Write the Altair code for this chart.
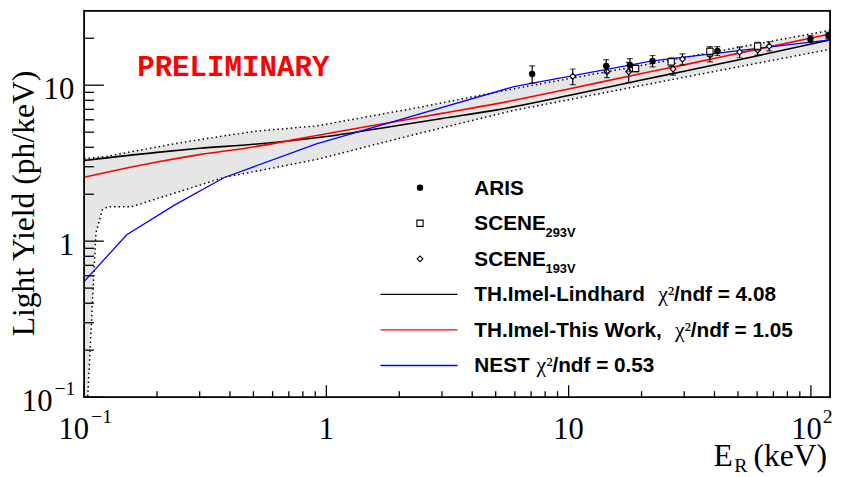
import altair as alt
import pandas as pd

# ---------------- data ----------------
band_E  = [0.1, 0.1035, 0.1065, 0.1084, 0.112, 0.119, 0.125, 0.156, 0.25, 0.38, 0.52, 0.91, 2.4, 5.95, 27, 120]
band_hi = [3.39, 3.40, 3.41, 3.42, 3.44, 3.47, 3.50, 3.74, 4.28, 4.74, 5.09, 5.48, 7.2, 9.5, 14.6, 22.5]
band_lo = [0.1, 0.1, 0.239, 0.427, 1.135, 1.59, 1.66, 1.66, 2.09, 2.57, 2.82, 3.34, 4.9, 6.9, 10.9, 17.0]

curve_E     = [0.1, 0.2, 0.3, 0.5, 1, 2, 3, 5, 10, 20, 30, 50, 120]
lindhard_LY = [3.29, 3.71, 3.94, 4.18, 4.69, 5.54, 6.12, 6.92, 8.58, 10.8, 12.3, 14.5, 19.5]
thiswork_LY = [2.57, 3.22, 3.59, 4.02, 4.88, 5.90, 6.6, 7.59, 9.45, 11.9, 13.5, 16.0, 21.3]

nest_E  = [0.1, 0.15, 0.237, 0.379, 0.91, 2.0, 5.95, 22.2, 38.9, 120]
nest_LY = [0.55, 1.10, 1.71, 2.56, 4.2, 6.0, 9.8, 14.3, 15.9, 19.5]

aris_E   = [7.07, 14.3, 17.9, 22.2, 41.1, 99.5, 118]
aris_LY  = [11.8, 13.3, 13.5, 14.3, 16.6, 19.8, 20.8]
aris_err = [1.5, 1.3, 1.3, 1.2, 1.1, 1.0, 1.0]

s293_E   = [18.9, 26.5, 38.3, 60.3]
s293_LY  = [12.8, 14.1, 16.5, 17.8]
s293_err = [0.6, 0.9, 1.2, 1.0]

s193_E   = [10.4, 14.4, 17.7, 27.0, 29.5, 38.3, 50.8, 60.3, 67.3]
s193_LY  = [11.4, 12.2, 12.2, 12.7, 14.7, 15.6, 16.3, 16.8, 17.8]
s193_err = [1.3, 1.0, 1.8, 1.1, 1.2, 1.5, 1.3, 1.2, 1.2]

x_major = [0.1, 1, 10, 100]
x_minor = [0.2, 0.3, 0.4, 0.5, 0.6, 0.7, 0.8, 0.9, 2, 3, 4, 5, 6, 7, 8, 9,
           20, 30, 40, 50, 60, 70, 80, 90]
y_major = [0.1, 1, 10]
y_minor = [0.2, 0.3, 0.4, 0.5, 0.6, 0.7, 0.8, 0.9, 2, 3, 4, 5, 6, 7, 8, 9, 20]

legend_marker_text = ["ARIS", "SCENE", "SCENE"]
legend_marker_sub = ["", "293V", "193V"]
legend_line_text = ["TH.Imel-Lindhard", "TH.Imel-This Work,", "NEST"]
legend_chi_values = ["4.08", "1.05", "0.53"]
legend_line_colors = ["black", "#ff0000", "#0000ff"]

# ---------------- layout ----------------
W, H = 755, 391
SERIF = "Liberation Serif"
SANS = "Liberation Sans"

xs = alt.Scale(type="log", domain=[0.1, 120], nice=False)
ys = alt.Scale(type="log", domain=[0.1, 30], nice=False)


def X(f):
    return alt.X(f, type="quantitative", scale=xs, axis=None)


def Y(f):
    return alt.Y(f, type="quantitative", scale=ys, axis=None)


band = pd.DataFrame({"E": band_E, "hi": band_hi, "lo": band_lo})
curves = pd.DataFrame({"E": curve_E, "lind": lindhard_LY, "tw": thiswork_LY})
nest = pd.DataFrame({"E": nest_E, "LY": nest_LY})


def pts(E, LY, err):
    return pd.DataFrame({"E": E, "LY": LY,
                         "lo": [a - b for a, b in zip(LY, err)],
                         "hi": [a + b for a, b in zip(LY, err)]})


aris = pts(aris_E, aris_LY, aris_err)
s293 = pts(s293_E, s293_LY, s293_err)
s193 = pts(s193_E, s193_LY, s193_err)

layers = []

# uncertainty band
layers.append(alt.Chart(band).mark_area(color="#e6e6e6", clip=True).encode(
    x=X("E"), y=Y("hi"), y2=alt.Y2("lo")))
for col in ["hi", "lo"]:
    layers.append(alt.Chart(band).mark_line(color="black", strokeWidth=1.5,
                                            strokeDash=[1.5, 3], clip=True).encode(
        x=X("E"), y=Y(col)))

# curves
layers.append(alt.Chart(curves).mark_line(color="black", strokeWidth=1.6,
                                          interpolate="monotone", clip=True).encode(
    x=X("E"), y=Y("lind")))
layers.append(alt.Chart(curves).mark_line(color="#ff0000", strokeWidth=1.6,
                                          interpolate="monotone", clip=True).encode(
    x=X("E"), y=Y("tw")))
layers.append(alt.Chart(nest).mark_line(color="#0000ff", strokeWidth=1.3, clip=True).encode(
    x=X("E"), y=Y("LY")))

# data points with error bars
for df, shape, filled, size in [(s193, "diamond", False, 34),
                                (s293, "square", False, 40),
                                (aris, "circle", True, 42)]:
    layers.append(alt.Chart(df).mark_rule(color="black", strokeWidth=1.2, clip=True).encode(
        x=X("E"), y=Y("lo"), y2=alt.Y2("hi")))
    for c in ["lo", "hi"]:
        layers.append(alt.Chart(df).mark_tick(color="black", orient="horizontal", size=6,
                                              thickness=1.2, clip=True).encode(
            x=X("E"), y=Y(c)))
    if filled:
        layers.append(alt.Chart(df).mark_point(shape=shape, filled=True, size=size,
                                               color="black", opacity=1, clip=True).encode(
            x=X("E"), y=Y("LY")))
    else:
        layers.append(alt.Chart(df).mark_point(shape=shape, filled=False, size=size,
                                               color="black", fill="white", fillOpacity=1,
                                               strokeWidth=1.1, opacity=1, clip=True).encode(
            x=X("E"), y=Y("LY")))

# ticks (inside, ROOT style)
for vals, ln in [(y_major, 20), (y_minor, 10)]:
    layers.append(alt.Chart(pd.DataFrame({"v": vals})).mark_rule(color="black", strokeWidth=1.3).encode(
        y=Y("v"), x=alt.value(0), x2=alt.value(ln)))
for vals, ln in [(x_major, 12), (x_minor, 6)]:
    layers.append(alt.Chart(pd.DataFrame({"v": vals})).mark_rule(color="black", strokeWidth=1.3).encode(
        x=X("v"), y=alt.value(H), y2=alt.value(H - ln)))

# frame
layers.append(alt.Chart(pd.DataFrame({"a": [0]})).mark_rect(fill=None, stroke="black", strokeWidth=1.8).encode(
    x=alt.value(0), x2=alt.value(W), y=alt.value(0), y2=alt.value(H)))

# tick labels
LFS = 31
xl = pd.DataFrame({"v": [1, 10], "t": ["1", "10"]})
layers.append(alt.Chart(xl).mark_text(font=SERIF, fontSize=LFS, align="center",
                                      baseline="alphabetic", color="black").encode(
    x=X("v"), y=alt.value(433), text="t:N"))
xl1 = pd.DataFrame({"v": [0.1], "t": ["10"], "s": ["\u22121"]})
layers.append(alt.Chart(xl1).mark_text(font=SERIF, fontSize=LFS, align="right", dx=5,
                                       baseline="alphabetic").encode(x=X("v"), y=alt.value(433), text="t:N"))
layers.append(alt.Chart(xl1).mark_text(font=SERIF, fontSize=20, align="left", dx=7,
                                       baseline="alphabetic").encode(x=X("v"), y=alt.value(417), text="s:N"))
xl2 = pd.DataFrame({"v": [100], "t": ["10"], "s": ["2"]})
layers.append(alt.Chart(xl2).mark_text(font=SERIF, fontSize=LFS, align="right", dx=11,
                                       baseline="alphabetic").encode(x=X("v"), y=alt.value(433), text="t:N"))
layers.append(alt.Chart(xl2).mark_text(font=SERIF, fontSize=20, align="left", dx=12,
                                       baseline="alphabetic").encode(x=X("v"), y=alt.value(417), text="s:N"))

yl = pd.DataFrame({"v": [1, 10], "t": ["1", "10"]})
layers.append(alt.Chart(yl).mark_text(font=SERIF, fontSize=LFS, align="right", dy=14,
                                      baseline="alphabetic").encode(y=Y("v"), x=alt.value(-10), text="t:N"))
yl1 = pd.DataFrame({"v": [0.1], "t": ["10"], "s": ["\u22121"]})
layers.append(alt.Chart(yl1).mark_text(font=SERIF, fontSize=LFS, align="right", dy=14,
                                       baseline="alphabetic").encode(y=Y("v"), x=alt.value(-32), text="t:N"))
layers.append(alt.Chart(yl1).mark_text(font=SERIF, fontSize=20, align="left", dy=-2,
                                       baseline="alphabetic").encode(y=Y("v"), x=alt.value(-30), text="s:N"))

# axis titles
one = lambda **kw: pd.DataFrame({k: [v] for k, v in kw.items()})
layers.append(alt.Chart(one(t="Light Yield (ph/keV)")).mark_text(
    font=SERIF, fontSize=32, angle=270, align="center", baseline="alphabetic").encode(
    x=alt.value(-51), y=alt.value(195), text="t:N"))
layers.append(alt.Chart(one(t="E")).mark_text(font=SERIF, fontSize=32, align="left",
                                              baseline="alphabetic").encode(
    x=alt.value(637), y=alt.value(461), text="t:N"))
layers.append(alt.Chart(one(t="R")).mark_text(font=SERIF, fontSize=20, align="left",
                                              baseline="alphabetic").encode(
    x=alt.value(658), y=alt.value(467), text="t:N"))
layers.append(alt.Chart(one(t="(keV)")).mark_text(font=SERIF, fontSize=32, align="right",
                                                  baseline="alphabetic").encode(
    x=alt.value(752), y=alt.value(461), text="t:N"))

# PRELIMINARY
layers.append(alt.Chart(one(t="PRELIMINARY")).mark_text(
    font="Liberation Mono", fontSize=29.5, fontWeight="bold", color="#ff0000",
    align="center", baseline="middle").encode(
    x=alt.value(151), y=alt.value(57), text="t:N"))

# legend
LEG_FS = 21
mk_y = [179, 215, 251]
ln_y = [287, 323, 359]
shapes = [("circle", True, 42), ("square", False, 40), ("diamond", False, 34)]
for i, (shape, filled, size) in enumerate(shapes):
    d = one(t=legend_marker_text[i], s=legend_marker_sub[i])
    if filled:
        layers.append(alt.Chart(d).mark_point(shape=shape, filled=True, size=size, color="black",
                                              opacity=1).encode(x=alt.value(340), y=alt.value(mk_y[i])))
    else:
        layers.append(alt.Chart(d).mark_point(shape=shape, filled=False, size=size, color="black",
                                              strokeWidth=1.1, opacity=1).encode(
            x=alt.value(340), y=alt.value(mk_y[i])))
    layers.append(alt.Chart(d).mark_text(font=SANS, fontWeight="bold", fontSize=LEG_FS, align="left",
                                         baseline="alphabetic").encode(
        x=alt.value(395), y=alt.value(mk_y[i] + 7), text="t:N"))
    if legend_marker_sub[i]:
        layers.append(alt.Chart(d).mark_text(font=SANS, fontWeight="bold", fontSize=13, align="left",
                                             baseline="alphabetic").encode(
            x=alt.value(467), y=alt.value(mk_y[i] + 14), text="s:N"))

chi_x = [581, 598, 458]
for i in range(3):
    d = one(t=legend_line_text[i], c="\u03c7\u00b2", r="/ndf = " + legend_chi_values[i])
    layers.append(alt.Chart(d).mark_rule(color=legend_line_colors[i], strokeWidth=1.3).encode(
        x=alt.value(300), x2=alt.value(378), y=alt.value(ln_y[i])))
    layers.append(alt.Chart(d).mark_text(font=SANS, fontWeight="bold", fontSize=LEG_FS, align="left",
                                         baseline="alphabetic").encode(
        x=alt.value(395), y=alt.value(ln_y[i] + 7), text="t:N"))
    layers.append(alt.Chart(d).mark_text(font=SERIF, fontSize=22, align="left",
                                         baseline="alphabetic").encode(
        x=alt.value(chi_x[i]), y=alt.value(ln_y[i] + 7), text="c:N"))
    layers.append(alt.Chart(d).mark_text(font=SANS, fontWeight="bold", fontSize=LEG_FS, align="left",
                                         baseline="alphabetic").encode(
        x=alt.value(chi_x[i] + 16), y=alt.value(ln_y[i] + 7), text="r:N"))

chart = alt.layer(*layers).properties(
    width=W, height=H,
    autosize=alt.AutoSizeParams(type="none"),
    padding={"left": 77, "top": 0, "right": 6, "bottom": 78},
    background="white",
).configure_view(stroke=None)

chart.save("out.html", embed_options={"renderer": "svg", "actions": False})
